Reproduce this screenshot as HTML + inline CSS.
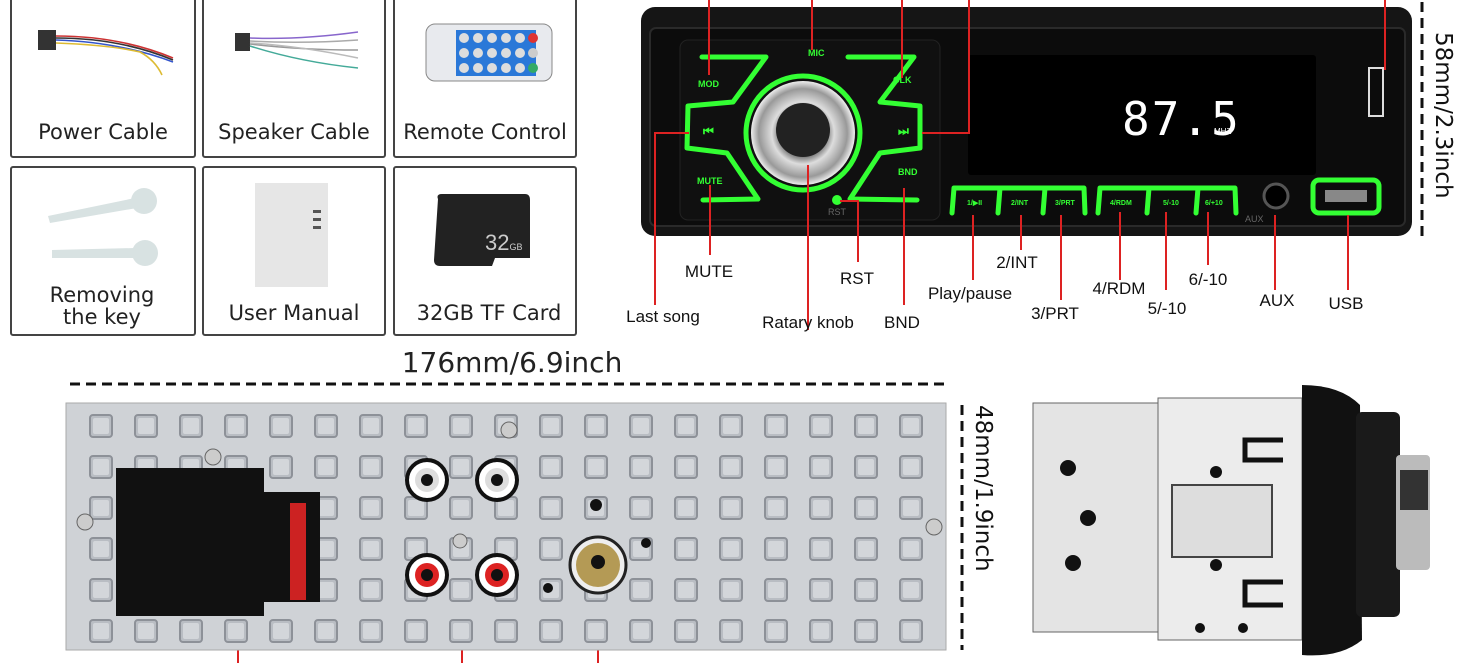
<!DOCTYPE html>
<html><head><meta charset="utf-8"><style>
html,body{margin:0;padding:0;background:#fff;}
svg{display:block;}
.lbl{font-family:"Liberation Sans",sans-serif;font-size:17px;fill:#111;}
.box{font-family:"DejaVu Sans","Liberation Sans",sans-serif;font-size:21px;fill:#222;}
.g{font-family:"Liberation Sans",sans-serif;font-weight:bold;fill:#3f3;font-size:9px;}
</style></head><body>
<svg width="1468" height="663" viewBox="0 0 1468 663" xmlns="http://www.w3.org/2000/svg">
<defs>
<pattern id="sq" x="88" y="413" width="45" height="41" patternUnits="userSpaceOnUse">
<rect x="2" y="2" width="22" height="22" rx="3" fill="#b9bdc3" stroke="#8d9198" stroke-width="2"/>
<rect x="5" y="5" width="16" height="16" rx="2" fill="#d3d6da"/>
</pattern>
<radialGradient id="kn" cx="50%" cy="50%" r="50%"><stop offset="0.4" stop-color="#555"/><stop offset="0.6" stop-color="#ddd"/><stop offset="0.85" stop-color="#999"/><stop offset="1" stop-color="#eee"/></radialGradient>
</defs>

<g fill="#fff" stroke="#444" stroke-width="2">
<rect x="11" y="-4" width="184" height="161" rx="2"/>
<rect x="203" y="-4" width="182" height="161" rx="2"/>
<rect x="394" y="-4" width="182" height="161" rx="2"/>
<rect x="11" y="167" width="184" height="168" rx="2"/>
<rect x="203" y="167" width="182" height="168" rx="2"/>
<rect x="394" y="167" width="182" height="168" rx="2"/>
</g>
<!-- power cable -->
<rect x="38" y="30" width="18" height="20" fill="#333"/>
<g fill="none" stroke-width="1.6"><path d="M56 36 Q120 36 173 58" stroke="#c33"/><path d="M56 40 Q120 42 173 62" stroke="#35c"/><path d="M56 43 Q110 45 140 52 Q155 60 162 75" stroke="#db3"/><path d="M56 38 Q120 38 173 60" stroke="#333"/></g>
<!-- speaker cable -->
<rect x="235" y="33" width="15" height="18" fill="#333"/>
<g fill="none" stroke-width="1.5"><path d="M250 38 Q300 40 358 32" stroke="#86c"/><path d="M250 41 Q300 44 358 40" stroke="#aaa"/><path d="M250 44 Q300 50 358 50" stroke="#999"/><path d="M250 46 Q300 62 358 68" stroke="#4a9"/><path d="M250 43 Q300 46 358 58" stroke="#bbb"/></g>
<!-- remote -->
<rect x="426" y="24" width="126" height="57" rx="9" fill="#e8eaee" stroke="#888"/>
<rect x="456" y="30" width="80" height="46" fill="#2a78d8"/>
<g fill="#ddd"><circle cx="464" cy="38" r="5"/><circle cx="478" cy="38" r="5"/><circle cx="492" cy="38" r="5"/><circle cx="506" cy="38" r="5"/><circle cx="520" cy="38" r="5"/><circle cx="464" cy="53" r="5"/><circle cx="478" cy="53" r="5"/><circle cx="492" cy="53" r="5"/><circle cx="506" cy="53" r="5"/><circle cx="520" cy="53" r="5"/><circle cx="464" cy="68" r="5"/><circle cx="478" cy="68" r="5"/><circle cx="492" cy="68" r="5"/><circle cx="506" cy="68" r="5"/><circle cx="520" cy="68" r="5"/></g>
<circle cx="533" cy="38" r="5" fill="#d33"/><circle cx="533" cy="53" r="5" fill="#ccc"/><circle cx="533" cy="68" r="5" fill="#3a6"/>
<!-- keys -->
<g fill="#d8e2e2"><path d="M48 216 L135 198 L137 208 L50 223Z"/><circle cx="144" cy="201" r="13"/><path d="M52 250 L135 248 L135 258 L52 258Z"/><circle cx="145" cy="253" r="13"/></g>
<!-- manual -->
<rect x="255" y="183" width="73" height="104" fill="#e6e6e6"/>
<g fill="#555"><rect x="313" y="210" width="8" height="3"/><rect x="313" y="218" width="8" height="3"/><rect x="313" y="226" width="8" height="3"/></g>
<!-- sd card -->
<path d="M438 199 Q436 194 442 194 L525 194 Q530 194 530 200 L530 258 L495 258 L492 266 L440 266 Q434 266 434 260Z" fill="#222"/>
<text x="485" y="250" font-family="Liberation Sans,sans-serif" font-size="22" fill="#ccc">32<tspan font-size="9">GB</tspan></text>
<text class="box" x="103" y="139" text-anchor="middle">Power Cable</text>
<text class="box" x="294" y="139" text-anchor="middle">Speaker Cable</text>
<text class="box" x="485" y="139" text-anchor="middle">Remote Control</text>
<text class="box" x="102" y="302" text-anchor="middle">Removing</text>
<text class="box" x="102" y="324" text-anchor="middle">the key</text>
<text class="box" x="294" y="320" text-anchor="middle">User Manual</text>
<text class="box" x="489" y="320" text-anchor="middle">32GB TF Card</text>

<!-- head unit -->
<rect x="641" y="7" width="771" height="229" rx="14" fill="#151515"/>
<rect x="650" y="28" width="755" height="198" rx="6" fill="#0c0c0c" stroke="#2a2a2a" stroke-width="2"/>
<rect x="680" y="40" width="260" height="180" rx="8" fill="#101010" stroke="#222"/>
<rect x="968" y="55" width="348" height="120" rx="3" fill="#000"/>
<text x="1122" y="135" font-family="DejaVu Sans Mono,monospace" font-size="46" fill="#fff" letter-spacing="2">87.5</text>
<text x="1214" y="134" font-family="Liberation Sans,sans-serif" font-size="8" fill="#fff">MHZ</text>
<g fill="none" stroke="#3f3" stroke-width="5" stroke-linejoin="round" stroke-linecap="round">
<path d="M702 57 L766 57 L733 102 L688 106 L687 148 L727 153 L758 199 L703 200"/>
<path d="M848 57 L914 57 L880 102 L920 106 L920 148 L880 153 L850 199 L917 200"/>
<circle cx="803" cy="133" r="57"/>
<path d="M952 213 L954 188 L1084 188 L1085 213 M998 213 L1000 188 M1043 213 L1045 188"/>
<path d="M1098 213 L1100 188 L1235 188 L1236 213 M1147 213 L1149 188 M1196 213 L1198 188"/>
<rect x="1313" y="180" width="66" height="33" rx="6"/>
</g>
<circle cx="803" cy="133" r="52" fill="url(#kn)"/>
<circle cx="803" cy="130" r="27" fill="#222"/>
<rect x="1325" y="190" width="42" height="12" fill="#888"/>
<circle cx="1276" cy="196" r="12" fill="#000" stroke="#555" stroke-width="3"/>
<rect x="1369" y="68" width="14" height="48" fill="none" stroke="#ddd" stroke-width="2"/>
<circle cx="837" cy="200" r="5" fill="#3f3"/>
<g class="g"><text x="698" y="87">MOD</text><text x="808" y="56" fill="#3f3">MIC</text><text x="893" y="83">CLK</text><text x="697" y="184">MUTE</text><text x="898" y="175">BND</text><text x="703" y="135" font-size="12">⏮</text><text x="898" y="135" font-size="12">⏭</text>
<text x="967" y="205" font-size="7">1/▶II</text><text x="1011" y="205" font-size="7">2/INT</text><text x="1055" y="205" font-size="7">3/PRT</text><text x="1110" y="205" font-size="7">4/RDM</text><text x="1163" y="205" font-size="7">5/-10</text><text x="1205" y="205" font-size="7">6/+10</text></g>
<text x="828" y="215" font-family="Liberation Sans,sans-serif" font-size="9" fill="#666">RST</text>
<text x="1245" y="222" font-family="Liberation Sans,sans-serif" font-size="9" fill="#666">AUX</text>

<g stroke="#d22" stroke-width="2" fill="none">
<path d="M709 0 V75"/><path d="M812 0 V50"/><path d="M902 0 V78"/><path d="M969 0 V133 H922"/><path d="M1385 0 V70"/>
<path d="M689 133 H655 V305"/><path d="M710 185 V255"/><path d="M808 165 V330"/><path d="M840 201 H858 V262"/><path d="M904 188 V305"/>
<path d="M973 215 V280"/><path d="M1021 215 V250"/><path d="M1061 215 V300"/><path d="M1120 212 V280"/><path d="M1166 212 V290"/><path d="M1208 212 V265"/><path d="M1275 215 V290"/><path d="M1348 215 V290"/>
<path d="M238 615 V663"/><path d="M462 615 V663"/><path d="M598 615 V663"/>
</g>
<g class="lbl">
<text x="709" y="277" text-anchor="middle">MUTE</text><text x="663" y="322" text-anchor="middle">Last song</text><text x="857" y="284" text-anchor="middle">RST</text><text x="808" y="328" text-anchor="middle">Ratary knob</text><text x="902" y="328" text-anchor="middle">BND</text><text x="970" y="299" text-anchor="middle">Play/pause</text><text x="1017" y="268" text-anchor="middle">2/INT</text><text x="1055" y="319" text-anchor="middle">3/PRT</text><text x="1119" y="294" text-anchor="middle">4/RDM</text><text x="1167" y="314" text-anchor="middle">5/-10</text><text x="1208" y="285" text-anchor="middle">6/-10</text><text x="1277" y="306" text-anchor="middle">AUX</text><text x="1346" y="309" text-anchor="middle">USB</text>
</g>

<path d="M1422 2 V236" stroke="#111" stroke-width="3" stroke-dasharray="10 6"/>
<text transform="translate(1436,32) rotate(90)" font-family="DejaVu Sans,sans-serif" font-size="23" fill="#111">58mm/2.3inch</text>
<text x="512" y="372" text-anchor="middle" font-family="DejaVu Sans,sans-serif" font-size="28" fill="#222">176mm/6.9inch</text>
<path d="M70 384 H945" stroke="#111" stroke-width="3" stroke-dasharray="10 6"/>
<path d="M962 405 V650" stroke="#111" stroke-width="3" stroke-dasharray="10 6"/>
<text transform="translate(976,405) rotate(90)" font-family="DejaVu Sans,sans-serif" font-size="23" fill="#111">48mm/1.9inch</text>

<rect x="66" y="403" width="880" height="247" fill="#cfd2d6" stroke="#aaa"/>
<rect x="88" y="413" width="850" height="240" fill="url(#sq)"/>
<rect x="116" y="468" width="148" height="148" fill="#111"/>
<rect x="264" y="492" width="56" height="110" fill="#111"/>
<rect x="290" y="503" width="16" height="97" fill="#c22"/>
<g fill="#fff"><circle cx="427" cy="480" r="18"/><circle cx="497" cy="480" r="18"/><circle cx="427" cy="575" r="18"/><circle cx="497" cy="575" r="18"/></g>
<g fill="none" stroke="#111" stroke-width="4"><circle cx="427" cy="480" r="20"/><circle cx="497" cy="480" r="20"/><circle cx="427" cy="575" r="20"/><circle cx="497" cy="575" r="20"/></g>
<circle cx="427" cy="480" r="12" fill="#ddd"/><circle cx="497" cy="480" r="12" fill="#ddd"/>
<circle cx="427" cy="575" r="12" fill="#d22"/><circle cx="497" cy="575" r="12" fill="#d22"/>
<g fill="#111"><circle cx="427" cy="480" r="6"/><circle cx="497" cy="480" r="6"/><circle cx="427" cy="575" r="6"/><circle cx="497" cy="575" r="6"/><circle cx="596" cy="505" r="6"/><circle cx="646" cy="543" r="5"/><circle cx="548" cy="588" r="5"/></g>
<circle cx="598" cy="565" r="28" fill="#eee" stroke="#222" stroke-width="3"/>
<circle cx="598" cy="565" r="22" fill="#b49a55"/>
<circle cx="598" cy="562" r="7" fill="#111"/>
<g fill="#ccc" stroke="#666"><circle cx="85" cy="522" r="8"/><circle cx="934" cy="527" r="8"/><circle cx="213" cy="457" r="8"/><circle cx="509" cy="430" r="8"/><circle cx="460" cy="541" r="7"/></g>

<rect x="1033" y="403" width="125" height="229" fill="#e4e4e4" stroke="#666"/>
<g fill="#111"><circle cx="1068" cy="468" r="8"/><circle cx="1088" cy="518" r="8"/><circle cx="1073" cy="563" r="8"/></g>
<rect x="1158" y="398" width="144" height="242" fill="#ececec" stroke="#666"/>
<rect x="1172" y="485" width="100" height="72" fill="#ddd" stroke="#444" stroke-width="2"/>
<g fill="#111"><circle cx="1216" cy="472" r="6"/><circle cx="1216" cy="565" r="6"/><circle cx="1200" cy="628" r="5"/><circle cx="1243" cy="628" r="5"/></g>
<g fill="none" stroke="#111" stroke-width="5"><path d="M1283 440 H1245 V460 H1283"/><path d="M1283 582 H1245 V605 H1283"/></g>
<path d="M1302 385 Q1340 385 1360 405 L1362 640 Q1340 658 1302 655Z" fill="#111"/>
<rect x="1356" y="412" width="44" height="205" rx="6" fill="#1a1a1a"/>
<rect x="1396" y="455" width="34" height="115" rx="4" fill="#bbb"/>
<rect x="1400" y="470" width="28" height="40" fill="#333"/>
</svg>
</body></html>
